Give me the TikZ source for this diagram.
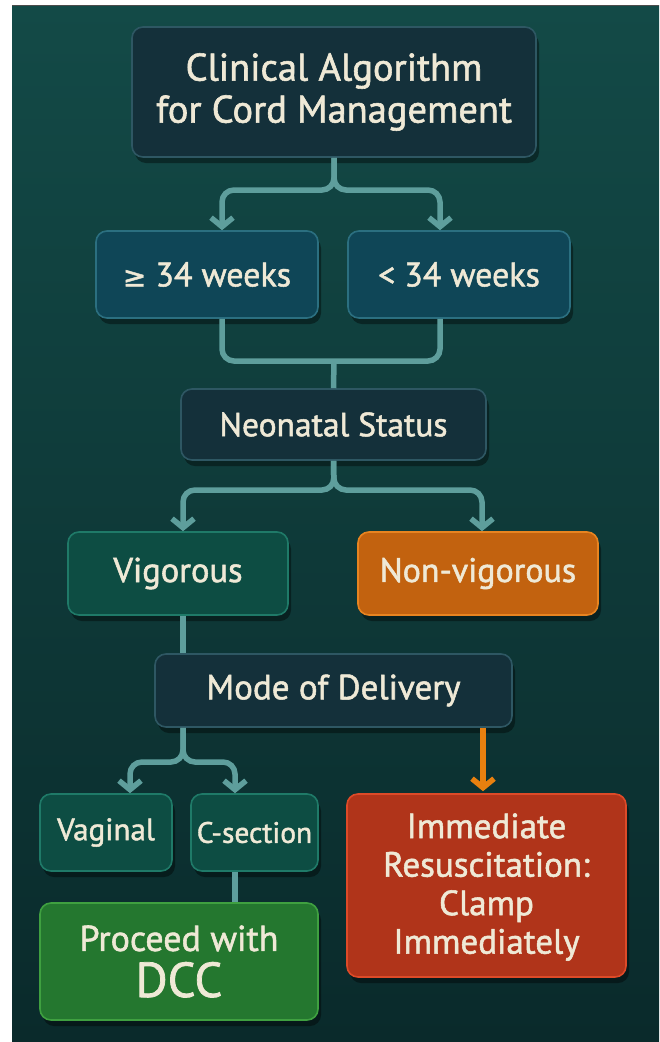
\documentclass[tikz,border=0pt]{standalone}
\usepackage{fontspec}
\setmainfont{PT Sans}
\newfontface\mface{PT Sans}[FakeBold=1.5]
\newfontfamily\symfont{DejaVu Sans}[FakeBold=1.5]
\usetikzlibrary{arrows.meta,shadows,calc}
\definecolor{bgtop}{HTML}{134A47}
\definecolor{bgbot}{HTML}{0A2A2B}
\definecolor{txt}{HTML}{EFE9D6}
\definecolor{conn}{HTML}{5E9E9C}
\definecolor{orarrow}{HTML}{E8800F}
\definecolor{darkF}{HTML}{14303A}\definecolor{darkD}{HTML}{2E5763}
\definecolor{blueF}{HTML}{0F4657}\definecolor{blueD}{HTML}{2B6F80}
\definecolor{tealF}{HTML}{0D4D43}\definecolor{tealD}{HTML}{1F7A68}
\definecolor{oranF}{HTML}{C2620F}\definecolor{oranD}{HTML}{E88420}
\definecolor{grnF}{HTML}{24772F}\definecolor{grnD}{HTML}{3FA040}
\definecolor{redF}{HTML}{B0341A}\definecolor{redD}{HTML}{DD4A28}
\newcommand\fsz[2]{\mface\fontsize{#1}{#2}\selectfont}
\tikzset{
  box/.style={rounded corners=11pt, line width=1.6pt, inner sep=0pt, align=center,
    text=txt, font=\fsz{34}{40},
    drop shadow={shadow xshift=3pt, shadow yshift=-6pt, opacity=0.4, fill=black}},
  darkbox/.style={box, fill=darkF, draw=darkD},
  bluebox/.style={box, fill=blueF, draw=blueD},
  tealbox/.style={box, fill=tealF, draw=tealD},
  connector/.style={draw=conn, line width=5.5pt, rounded corners=12pt},
  arr/.style={-{Straight Barb[length=9pt,width=22pt,line width=5.5pt]}},
}
\begin{document}
\begin{tikzpicture}[x=1pt,y=-1pt]
\useasboundingbox (0,0) rectangle (659,1042);
\fill[white] (0,0) rectangle (659,1042);
\shade[top color=bgtop, bottom color=bgbot] (12,5) rectangle (659,1042);
\draw[black!70, line width=1.2pt] (12,5.6) -- (659,5.6);

\node[darkbox, minimum width=404pt, minimum height=130pt, font=\fsz{38.5}{42}] (title) at (334,92) {Clinical Algorithm\\for Cord Management};
\node[bluebox, minimum width=222pt, minimum height=87pt] (w1) at (207,274.5) {{\symfont\fontsize{28}{32}\selectfont ≥} 34 weeks};
\node[bluebox, minimum width=222pt, minimum height=87pt] (w2) at (459,274.5) {< 34 weeks};
\node[darkbox, minimum width=305pt, minimum height=71pt, font=\fsz{33.5}{40}] (neo) at (333.5,424.5) {Neonatal Status};
\node[tealbox, minimum width=220pt, minimum height=83pt, font=\fsz{34.5}{40}] (vig) at (178,573.5) {Vigorous};
\node[box, fill=oranF, draw=oranD, minimum width=240pt, minimum height=83pt] (non) at (478,573.5) {Non-vigorous};
\node[darkbox, minimum width=357pt, minimum height=73pt, font=\fsz{35}{40}] (mode) at (333.5,690.5) {Mode of Delivery};
\node[tealbox, minimum width=132pt, minimum height=77pt, font=\fsz{31}{36}] (vag) at (106,832.5) {Vaginal};
\node[tealbox, minimum width=127pt, minimum height=77pt, font=\fsz{29.5}{36}] (cs) at (254.5,832.5) {C-section};
\node[box, fill=grnF, draw=grnD, minimum width=278pt, minimum height=117pt, font=\fsz{36}{46}] (dcc) at (179,961.5) {Proceed with\\{\fsz{49}{46}DCC}};
\node[box, fill=redF, draw=redD, minimum width=279pt, minimum height=183pt, font=\fsz{35}{38.5}, text depth=4pt] (imm) at (486.5,885.5) {Immediate\\Resuscitation:\\Clamp\\Immediately};

% title split
\coordinate (s1) at (334,190);
\draw[connector, arr] (title.south) -- (s1) -| ([xshift=15pt]w1.north);
\draw[connector, arr] (title.south) -- (s1) -| ([xshift=-19pt]w2.north);
% weeks merge
\coordinate (m1) at (334,361);
\draw[connector] ([xshift=15pt]w1.south) |- (m1) -| ([xshift=-19pt]w2.south);
\draw[connector] (m1) -- (neo.north);
% neonatal split
\coordinate (s2) at (334,490);
\draw[connector, arr] (neo.south) -- (s2) -| ([xshift=5pt]vig.north);
\draw[connector, arr] (neo.south) -- (s2) -| ([xshift=4pt]non.north);
% vigorous to mode
\draw[connector] ([xshift=5pt]vig.south) -- ([xshift=-150.5pt]mode.north);
% mode split
\coordinate (s3) at (183,762);
\draw[connector, arr] ([xshift=-150.5pt]mode.south) -- (s3) -| ([xshift=24pt]vag.north);
\draw[connector, arr] ([xshift=-150.5pt]mode.south) -- (s3) -| ([xshift=-19.5pt]cs.north);
% orange arrow
\draw[draw=orarrow, line width=5.5pt, -{Straight Barb[length=9pt,width=22pt,line width=5.5pt]}] ([xshift=149.5pt]mode.south) -- ([xshift=-3.5pt, yshift=2pt]imm.north);
% c-section to dcc
\draw[connector] ([xshift=-19.5pt]cs.south) -- ([xshift=56pt]dcc.north);
\end{tikzpicture}
\end{document}
